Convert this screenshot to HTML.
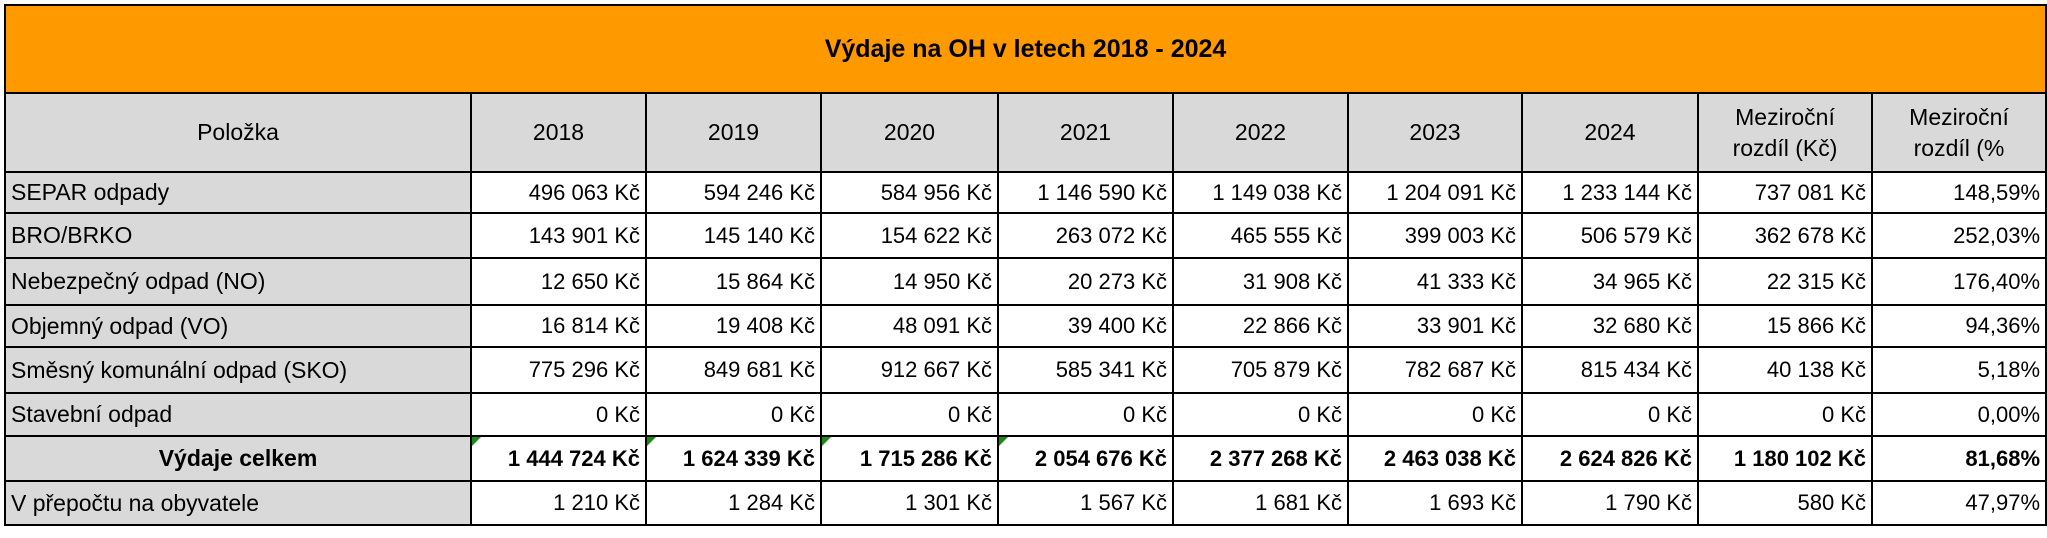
<!DOCTYPE html>
<html><head><meta charset="utf-8"><style>
html,body{margin:0;padding:0;background:#fff;width:2047px;height:538px;overflow:hidden}
table{position:absolute;left:4px;top:4px;border-collapse:collapse;table-layout:fixed;width:2041px;font-family:"Liberation Sans",sans-serif;font-size:22px;color:#000}
td{border:2px solid #000;padding:0 5px;white-space:nowrap;overflow:hidden;position:relative}
.title{background:#ff9900;text-align:center;font-weight:bold;font-size:25px;height:86px}
.hd td{background:#d9d9d9;text-align:center;height:77px;line-height:31px;font-size:23px}
.lab{background:#d9d9d9;text-align:left;font-size:23px}
.num{text-align:right}
.tot td{font-weight:bold}
.tri{position:absolute;left:0;top:0;width:0;height:0;border-top:9px solid #1a8a1a;border-right:9px solid transparent}
</style></head><body>
<table>
<colgroup><col style="width:466px"><col style="width:175px"><col style="width:175px"><col style="width:177px"><col style="width:175px"><col style="width:175px"><col style="width:174px"><col style="width:176px"><col style="width:174px"><col style="width:174px"></colgroup>
<tr><td colspan="10" class="title">Výdaje na OH v letech 2018 - 2024</td></tr>
<tr class="hd"><td>Položka</td><td>2018</td><td>2019</td><td>2020</td><td>2021</td><td>2022</td><td>2023</td><td>2024</td><td>Meziroční<br>rozdíl (Kč)</td><td>Meziroční<br>rozdíl (%</td></tr>
<tr style="height:41px"><td class="lab">SEPAR odpady</td><td class="num">496 063 Kč</td><td class="num">594 246 Kč</td><td class="num">584 956 Kč</td><td class="num">1 146 590 Kč</td><td class="num">1 149 038 Kč</td><td class="num">1 204 091 Kč</td><td class="num">1 233 144 Kč</td><td class="num">737 081 Kč</td><td class="num">148,59%</td></tr>
<tr style="height:45px"><td class="lab">BRO/BRKO</td><td class="num">143 901 Kč</td><td class="num">145 140 Kč</td><td class="num">154 622 Kč</td><td class="num">263 072 Kč</td><td class="num">465 555 Kč</td><td class="num">399 003 Kč</td><td class="num">506 579 Kč</td><td class="num">362 678 Kč</td><td class="num">252,03%</td></tr>
<tr style="height:47px"><td class="lab">Nebezpečný odpad (NO)</td><td class="num">12 650 Kč</td><td class="num">15 864 Kč</td><td class="num">14 950 Kč</td><td class="num">20 273 Kč</td><td class="num">31 908 Kč</td><td class="num">41 333 Kč</td><td class="num">34 965 Kč</td><td class="num">22 315 Kč</td><td class="num">176,40%</td></tr>
<tr style="height:42px"><td class="lab">Objemný odpad (VO)</td><td class="num">16 814 Kč</td><td class="num">19 408 Kč</td><td class="num">48 091 Kč</td><td class="num">39 400 Kč</td><td class="num">22 866 Kč</td><td class="num">33 901 Kč</td><td class="num">32 680 Kč</td><td class="num">15 866 Kč</td><td class="num">94,36%</td></tr>
<tr style="height:46px"><td class="lab">Směsný komunální odpad (SKO)</td><td class="num">775 296 Kč</td><td class="num">849 681 Kč</td><td class="num">912 667 Kč</td><td class="num">585 341 Kč</td><td class="num">705 879 Kč</td><td class="num">782 687 Kč</td><td class="num">815 434 Kč</td><td class="num">40 138 Kč</td><td class="num">5,18%</td></tr>
<tr style="height:43px"><td class="lab">Stavební odpad</td><td class="num">0 Kč</td><td class="num">0 Kč</td><td class="num">0 Kč</td><td class="num">0 Kč</td><td class="num">0 Kč</td><td class="num">0 Kč</td><td class="num">0 Kč</td><td class="num">0 Kč</td><td class="num">0,00%</td></tr>
<tr style="height:45px" class="tot"><td class="lab" style="text-align:center">Výdaje celkem</td><td class="num"><span class="tri"></span>1 444 724 Kč</td><td class="num"><span class="tri"></span>1 624 339 Kč</td><td class="num"><span class="tri"></span>1 715 286 Kč</td><td class="num"><span class="tri"></span>2 054 676 Kč</td><td class="num">2 377 268 Kč</td><td class="num">2 463 038 Kč</td><td class="num">2 624 826 Kč</td><td class="num">1 180 102 Kč</td><td class="num">81,68%</td></tr>
<tr style="height:44px"><td class="lab">V přepočtu na obyvatele</td><td class="num">1 210 Kč</td><td class="num">1 284 Kč</td><td class="num">1 301 Kč</td><td class="num">1 567 Kč</td><td class="num">1 681 Kč</td><td class="num">1 693 Kč</td><td class="num">1 790 Kč</td><td class="num">580 Kč</td><td class="num">47,97%</td></tr>
</table>
</body></html>
